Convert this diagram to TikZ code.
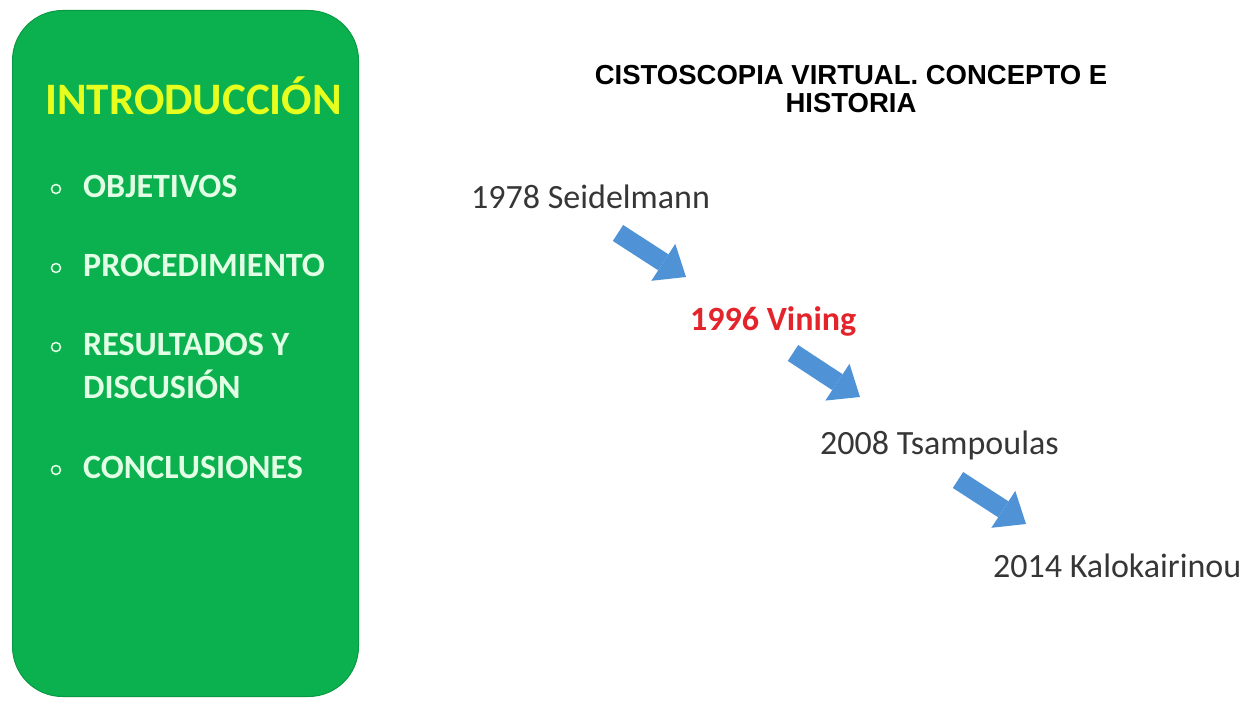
\documentclass[tikz,border=0pt]{standalone}
\usepackage{fontspec}
\setmainfont{Carlito}
\newfontfamily\titlefont{Liberation Sans}
\usetikzlibrary{arrows.meta}
\definecolor{boxgreen}{HTML}{0BB14E}
\definecolor{boxedge}{HTML}{089A42}
\definecolor{introyellow}{HTML}{E6FF1E}
\definecolor{itemwhite}{HTML}{E2FFE6}
\definecolor{arrowblue}{HTML}{4F92D6}
\definecolor{txtgray}{HTML}{363636}
\definecolor{vinred}{HTML}{E3242B}
\begin{document}
\begin{tikzpicture}[x=1pt,y=-1pt,
  panelbox/.style={fill=boxgreen, draw=boxedge, line width=1pt, rounded corners=50pt, anchor=north west, inner sep=0pt},
  introtitle/.style={anchor=base west, inner sep=0pt, text=introyellow, font=\fontsize{45}{50}\selectfont\bfseries},
  item/.style={anchor=base west, inner sep=0pt, text=itemwhite, font=\fontsize{34}{43}\selectfont\bfseries, align=left},
  bul/.style={circle, draw=itemwhite, line width=1.5pt, minimum size=9pt, inner sep=0pt},
  year/.style={anchor=base west, inner sep=0pt, text=txtgray, font=\fontsize{34}{40}\selectfont},
  blockarrow/.style={draw=arrowblue, line width=19pt, line cap=butt, -{Triangle[width=44pt,length=27pt,line width=0pt,fill=arrowblue]}},
  headline/.style={inner sep=0pt, align=center, text=black, font=\titlefont\fontsize{27.5}{28}\selectfont\bfseries}]
\useasboundingbox (0,0) rectangle (1245,701);

% left panel
\node[panelbox, minimum width=346pt, minimum height=686pt] (panel) at (12,10) {};
\node[introtitle] (intro) at (45,114) {INTRODUCCIÓN};
\node[item] (obj) at (83,197) {OBJETIVOS};
\node[item] (proc) at (83,276) {PROCEDIMIENTO};
\node[item] (res) at (83,398) {RESULTADOS Y\\DISCUSIÓN};
\node[item] (conc) at (83,478) {CONCLUSIONES};
\node[bul] (b1) at (56,189) {};
\node[bul] (b2) at (56,268) {};
\node[bul] (b3) at (56,347) {};
\node[bul] (b4) at (56,470) {};

% title
\node[headline, anchor=base] (head) at (851,112) {CISTOSCOPIA VIRTUAL. CONCEPTO E\\HISTORIA};

% timeline
\node[year] (y1978) at (471,208) {1978 Seidelmann};
\node[year, text=vinred, font=\fontsize{34}{40}\selectfont\bfseries] (y1996) at (690,330) {1996 Vining};
\node[year] (y2008) at (820,454) {2008 Tsampoulas};
\node[year] (y2014) at (993,577) {2014 Kalokairinou};

\coordinate (a1s) at (618,233);
\coordinate (a1e) at (686,277);
\coordinate (a2s) at (793,353);
\coordinate (a2e) at (860,397);
\coordinate (a3s) at (958,480);
\coordinate (a3e) at (1026,524);
\draw[blockarrow] (a1s) -- (a1e);
\draw[blockarrow] (a2s) -- (a2e);
\draw[blockarrow] (a3s) -- (a3e);
\end{tikzpicture}
\end{document}
